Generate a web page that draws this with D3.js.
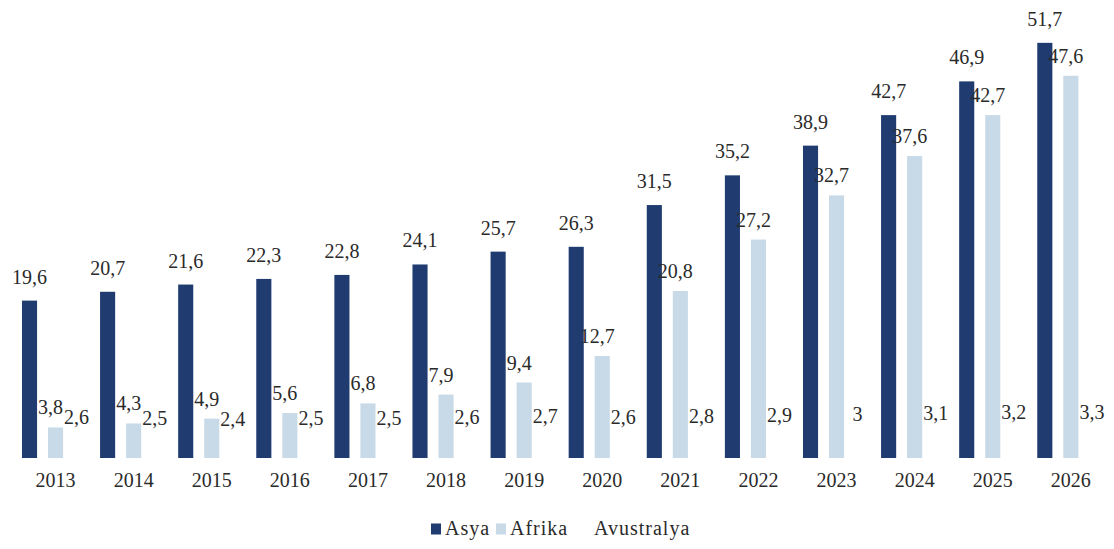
<!DOCTYPE html>
<html>
<head>
<meta charset="utf-8">
<script src="https://cdn.jsdelivr.net/npm/d3@7"></script>
<style>
  html, body { margin: 0; padding: 0; background: #ffffff; }
  svg { display: block; }
</style>
</head>
<body>
<svg id="chart" width="1114" height="549"></svg>
<script>
const years = ["2013","2014","2015","2016","2017","2018","2019","2020","2021","2022","2023","2024","2025","2026"];
const seriesNames = ["Asya", "Afrika", "Avustralya"];
const asya = [19.6, 20.7, 21.6, 22.3, 22.8, 24.1, 25.7, 26.3, 31.5, 35.2, 38.9, 42.7, 46.9, 51.7];
const afrika = [3.8, 4.3, 4.9, 5.6, 6.8, 7.9, 9.4, 12.7, 20.8, 27.2, 32.7, 37.6, 42.7, 47.6];
const avustralya = [2.6, 2.5, 2.4, 2.5, 2.5, 2.6, 2.7, 2.6, 2.8, 2.9, 3, 3.1, 3.2, 3.3];
const colors = ["#1f3b70", "#c8dae8", "#ffffff"];

const FONT = "'Liberation Serif', 'DejaVu Serif', 'Times New Roman', serif";
const TXT = "#2a2a2a";

const seriesValues = [asya, afrika, avustralya];
const rows = years.map((y, i) => ({ year: y, values: seriesNames.map((s, k) => ({ key: s, idx: k, value: seriesValues[k][i] })) }));

const svg = d3.select("#chart");
const baseline = 458;

const x0 = d3.scaleBand().domain(years).range([16.5, 16.5 + 78.1 * years.length]).paddingInner(0).paddingOuter(0);
const x1 = d3.scaleBand().domain(seriesNames).range([0, x0.bandwidth()]).paddingInner(0.42).paddingOuter(0.21);
const y = d3.scaleLinear().domain([0, 55]).range([baseline, baseline - 55 * 8.03]);
const color = d3.scaleOrdinal().domain(seriesNames).range(colors);
const fmt = v => String(v).replace(".", ",");

const groups = svg.append("g").selectAll("g").data(rows).join("g")
  .attr("transform", d => `translate(${x0(d.year)},0)`);

groups.selectAll("rect").data(d => d.values).join("rect")
  .attr("x", d => x1(d.key))
  .attr("y", d => y(d.value))
  .attr("width", x1.bandwidth())
  .attr("height", d => y(0) - y(d.value))
  .attr("fill", d => color(d.key));

groups.selectAll("text.val").data(d => d.values).join("text")
  .attr("class", "val")
  .attr("x", d => x1(d.key) + x1.bandwidth() / 2 + (d.idx === 0 ? 0 : -5))
  .attr("y", d => y(d.value) - (d.idx === 0 ? 17 : 13))
  .attr("text-anchor", "middle")
  .style("font-family", FONT)
  .attr("font-size", 20)
  .attr("fill", TXT)
  .text(d => fmt(d.value));

// category axis labels
const xAxis = d3.axisBottom(x0).tickSize(0).tickPadding(0);
const gx = svg.append("g").attr("transform", `translate(0,${baseline})`).call(xAxis);
gx.select(".domain").remove();
gx.selectAll("text")
  .style("font-family", FONT)
  .attr("font-size", 20)
  .attr("fill", TXT)
  .attr("dy", "1.45em");

// legend
const legendX = [431, 496, 580];
const legend = svg.append("g").selectAll("g").data(seriesNames).join("g")
  .attr("transform", (d, i) => `translate(${legendX[i]},529)`);
legend.append("rect")
  .attr("x", 0).attr("y", -5.5).attr("width", 10).attr("height", 11)
  .attr("fill", d => color(d));
legend.append("text")
  .attr("x", 14).attr("y", 6)
  .style("font-family", FONT)
  .style("letter-spacing", "1px")
  .attr("font-size", 20)
  .attr("fill", TXT)
  .text(d => d);
</script>
</body>
</html>
